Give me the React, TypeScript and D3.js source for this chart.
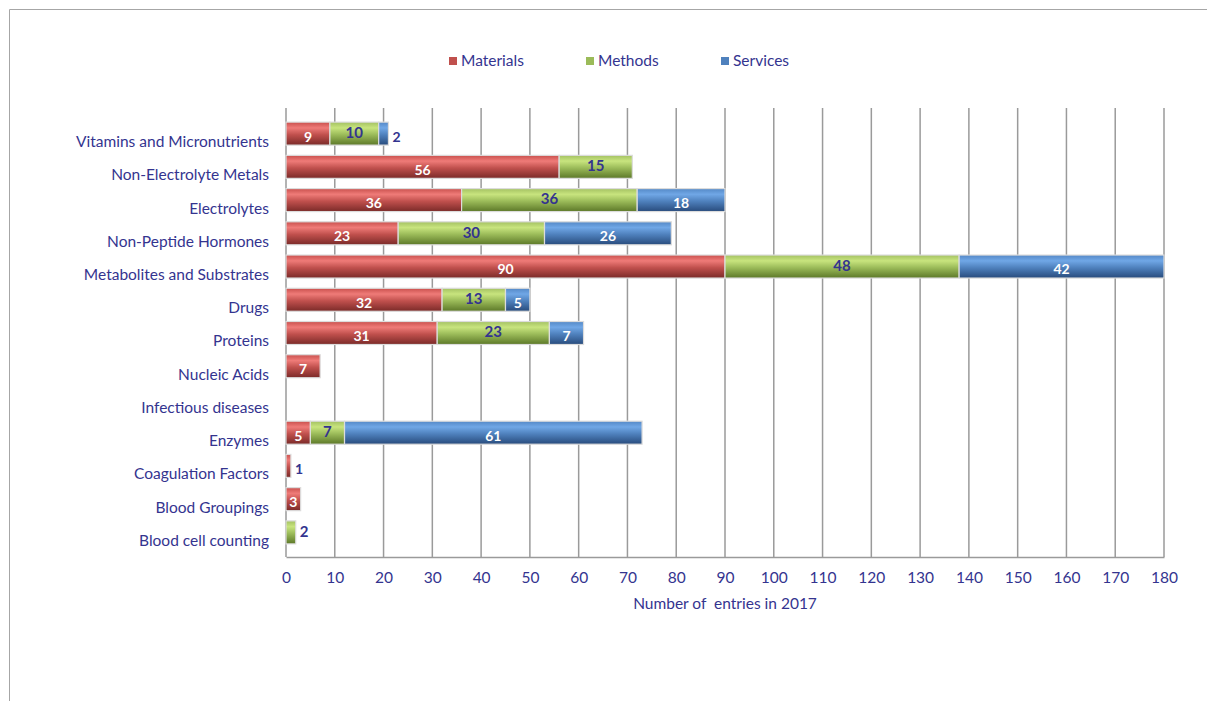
import React, { useEffect, useRef } from 'react';
import * as d3 from 'd3';

const categories = [
  'Vitamins and Micronutrients',
  'Non-Electrolyte Metals',
  'Electrolytes',
  'Non-Peptide Hormones',
  'Metabolites and Substrates',
  'Drugs',
  'Proteins',
  'Nucleic Acids',
  'Infectious diseases',
  'Enzymes',
  'Coagulation Factors',
  'Blood Groupings',
  'Blood cell counting',
];
const materials = [9, 56, 36, 23, 90, 32, 31, 7, 0, 5, 1, 3, 0];
const methods = [10, 15, 36, 30, 48, 13, 23, 0, 0, 7, 0, 0, 2];
const services = [2, 0, 18, 26, 42, 5, 7, 0, 0, 61, 0, 0, 0];
const seriesNames = ['Materials', 'Methods', 'Services'];
const xTicks = [0, 10, 20, 30, 40, 50, 60, 70, 80, 90, 100, 110, 120, 130, 140, 150, 160, 170, 180];

const W = 1207;
const H = 701;
const FONT = 'Lato, "Open Sans", sans-serif';
const TEXT_BLUE = '#34348f';

export default function App() {
  const ref = useRef<SVGSVGElement>(null);

  useEffect(() => {
    const svg = d3.select(ref.current);
    svg.selectAll('*').remove();

    const margin = { top: 125, left: 286, right: 43, bottom: 144 };
    const innerW = W - margin.left - margin.right;
    const innerH = H - margin.top - margin.bottom;

    const colors = [
      ['#c9504d', '#ef7b78', '#c0504d', '#7a2a28'],
      ['#a3c162', '#c8e47e', '#9bbb59', '#5c7828'],
      ['#5488c6', '#70a7e6', '#4f81bd', '#284b7c'],
    ];
    const labelColors = ['#ffffff', TEXT_BLUE, '#ffffff'];

    const defs = svg.append('defs');
    colors.forEach((c, i) => {
      const g = defs.append('linearGradient')
        .attr('id', `grad${i}`)
        .attr('x1', 0).attr('y1', 0).attr('x2', 0).attr('y2', 1);
      g.append('stop').attr('offset', '0%').attr('stop-color', c[0]);
      g.append('stop').attr('offset', '25%').attr('stop-color', c[1]);
      g.append('stop').attr('offset', '55%').attr('stop-color', c[2]);
      g.append('stop').attr('offset', '100%').attr('stop-color', c[3]);
    });

    // outer frame
    svg.append('path')
      .attr('d', `M9.5,${H} V9.5 H${W}`)
      .attr('fill', 'none')
      .attr('stroke', '#a6a6a6')
      .attr('stroke-width', 1);

    const rows = categories.map((name, i) => ({
      name,
      Materials: materials[i],
      Methods: methods[i],
      Services: services[i],
    }));

    const stacked = d3.stack<any>().keys(seriesNames)(rows);

    const x = d3.scaleLinear().domain([0, 180]).range([0, innerW]);
    const y = d3.scaleBand().domain(categories).range([0, innerH]);

    const chart = svg.append('g').attr('transform', `translate(${margin.left},${margin.top})`);

    // gridlines (back wall sits a bit higher)
    chart.append('g')
      .selectAll('line')
      .data(xTicks)
      .join('line')
      .attr('x1', (d) => x(d))
      .attr('x2', (d) => x(d))
      .attr('y1', -17)
      .attr('y2', innerH)
      .attr('stroke', '#9a9a9a')
      .attr('stroke-width', 1.5);

    // x axis
    const xAxis = chart.append('g')
      .attr('transform', `translate(0,${innerH})`)
      .call(d3.axisBottom(x).tickValues(xTicks).tickSize(0).tickPadding(15));
    xAxis.select('.domain').attr('stroke', '#9a9a9a').attr('stroke-width', 1.5);
    xAxis.selectAll('text')
      .attr('fill', TEXT_BLUE)
      .style('font-family', FONT)
      .style('font-size', '15.5px');

    // category labels
    chart.append('g')
      .selectAll('text')
      .data(categories)
      .join('text')
      .attr('x', -17)
      .attr('y', (d) => (y(d) as number) + y.bandwidth() / 2)
      .attr('dy', '0.35em')
      .attr('text-anchor', 'end')
      .attr('fill', TEXT_BLUE)
      .style('font-family', FONT)
      .style('font-size', '15.5px')
      .text((d) => d);

    const barH = 23;
    const barShift = -8;

    stacked.forEach((layer, si) => {
      const g = chart.append('g');
      const segs = layer
        .map((s) => ({ x0: s[0], x1: s[1], name: s.data.name, v: s[1] - s[0] }))
        .filter((s) => s.v > 0);

      g.selectAll('rect')
        .data(segs)
        .join('rect')
        .attr('x', (d) => x(d.x0))
        .attr('y', (d) => (y(d.name) as number) + y.bandwidth() / 2 + barShift - barH / 2)
        .attr('width', (d) => x(d.x1) - x(d.x0))
        .attr('height', barH)
        .attr('fill', `url(#grad${si})`)
        .attr('stroke', '#dcdcdc')
        .attr('stroke-width', 1.2);

      g.selectAll('text')
        .data(segs)
        .join('text')
        .attr('x', (d) => {
          const w = x(d.x1) - x(d.x0);
          return w < 12 ? x(d.x1) + 4 : (x(d.x0) + x(d.x1)) / 2;
        })
        .attr('y', (d) => (y(d.name) as number) + y.bandwidth() / 2 + barShift + (si === 1 ? -1 : 3))
        .attr('dy', '0.35em')
        .attr('text-anchor', (d) => (x(d.x1) - x(d.x0) < 12 ? 'start' : 'middle'))
        .attr('fill', (d) => (x(d.x1) - x(d.x0) < 12 ? TEXT_BLUE : labelColors[si]))
        .style('font-family', FONT)
        .style('font-weight', 'bold')
        .style('font-size', si === 1 ? '15px' : '14px')
        .text((d) => d.v);
    });

    // axis title
    svg.append('text')
      .attr('x', margin.left + x(90))
      .attr('y', 609)
      .attr('text-anchor', 'middle')
      .attr('fill', TEXT_BLUE)
      .style('font-family', FONT)
      .style('font-size', '15.5px')
      .style('white-space', 'pre')
      .text('Number of  entries in 2017');

    // legend
    const legendX = [449, 586, 721];
    const legend = svg.append('g');
    seriesNames.forEach((name, i) => {
      legend.append('rect')
        .attr('x', legendX[i])
        .attr('y', 57)
        .attr('width', 8)
        .attr('height', 8)
        .attr('fill', colors[i][2]);
      legend.append('text')
        .attr('x', legendX[i] + 12)
        .attr('y', 61)
        .attr('dy', '0.35em')
        .attr('fill', TEXT_BLUE)
        .style('font-family', FONT)
        .style('font-size', '15.5px')
        .text(name);
    });
  }, []);

  return (
    <svg
      ref={ref}
      width={W}
      height={H}
      style={{ position: 'absolute', left: 0, top: 0, background: '#fff' }}
    />
  );
}
